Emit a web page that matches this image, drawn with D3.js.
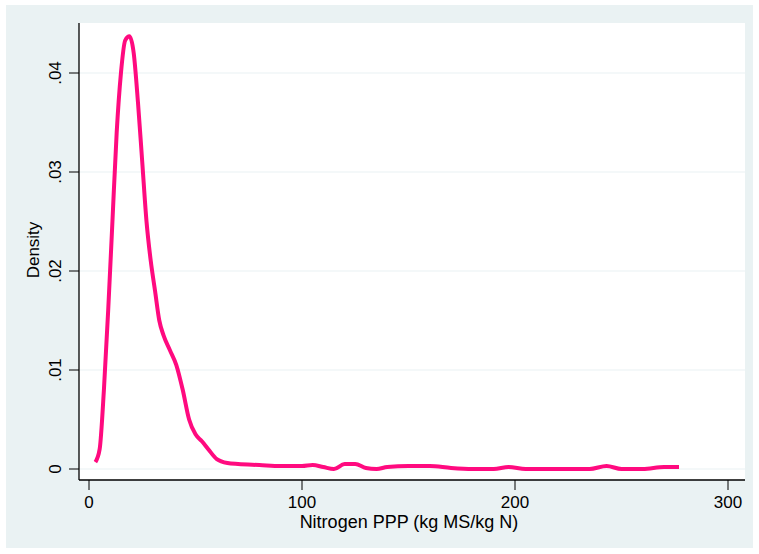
<!DOCTYPE html><html><head><script src="https://cdn.jsdelivr.net/npm/d3@7"></script>
<style>body{margin:0;background:#fff}svg{display:block;font-family:"Liberation Sans",Arial,sans-serif}</style></head><body><svg width="759" height="554"></svg>
<script>
const xs=[3,5,7,9,11,13,15,17,19,21,23,25,27,29,31,33,35,38,41,44,47,50,53,56,60,65,70,80,90,100,105,110,115,120,125,130,135,140,150,160,170,180,190,197,205,220,235,243,250,260,270,277];
const ys=[.0007,.002,.008,.016,.025,.034,.040,.0433,.0437,.042,.037,.031,.025,.021,.018,.015,.0135,.012,.0105,.008,.005,.0035,.0028,.002,.001,.0006,.0005,.0004,.0003,.0003,.0004,.0002,0,.0005,.0005,.0001,0,.0002,.0003,.0003,.0001,0,0,.0002,0,0,0,.0003,0,0,.0002,.0002];
const yTicks=[0,.01,.02,.03,.04], yLabels=["0",".01",".02",".03",".04"];
const xTicks=[0,100,200,300];
const svg=d3.select("svg");
svg.append("rect").attr("x",0).attr("y",0).attr("width",759).attr("height",554).attr("fill","#fff");
svg.append("rect").attr("x",6).attr("y",5).attr("width",747).attr("height",543).attr("fill","#eaf2f3");
const L=79,R=745,T=23,B=480;
svg.append("rect").attr("x",L).attr("y",T).attr("width",R-L).attr("height",B-T).attr("fill","#fff");
const x=d3.scaleLinear().domain([0,300]).range([89,728]);
const y=d3.scaleLinear().domain([0,.04]).range([469,73]);
svg.selectAll(".g").data(yTicks).join("line").attr("x1",L).attr("x2",R).attr("y1",d=>y(d)).attr("y2",d=>y(d)).attr("stroke","#eaf2f3").attr("stroke-width",1.2);
svg.append("line").attr("x1",L).attr("x2",L).attr("y1",T).attr("y2",B).attr("stroke","#000").attr("stroke-width",1.3);
svg.append("line").attr("x1",L).attr("x2",R).attr("y1",B).attr("y2",B).attr("stroke","#000").attr("stroke-width",1.3);
yTicks.forEach((t,i)=>{svg.append("line").attr("x1",L-10).attr("x2",L).attr("y1",y(t)).attr("y2",y(t)).attr("stroke","#000");
 svg.append("text").attr("transform",`translate(${L-18},${y(t)}) rotate(-90)`).attr("text-anchor","middle").attr("font-size",17).text(yLabels[i]);});
xTicks.forEach(t=>{svg.append("line").attr("x1",x(t)).attr("x2",x(t)).attr("y1",B).attr("y2",B+10).attr("stroke","#000");
 svg.append("text").attr("x",x(t)).attr("y",508).attr("text-anchor","middle").attr("font-size",17).text(t);});
svg.append("text").attr("x",409).attr("y",528).attr("text-anchor","middle").attr("font-size",18).text("Nitrogen PPP (kg MS/kg N)");
svg.append("text").attr("transform","translate(39,250) rotate(-90)").attr("text-anchor","middle").attr("font-size",17).text("Density");
svg.append("path").datum(xs.map((v,i)=>[v,ys[i]])).attr("fill","none").attr("stroke","#ff0a7f").attr("stroke-width",4).attr("stroke-linejoin","round")
 .attr("d",d3.line().x(d=>x(d[0])).y(d=>y(d[1])).curve(d3.curveMonotoneX));
</script></body></html>
